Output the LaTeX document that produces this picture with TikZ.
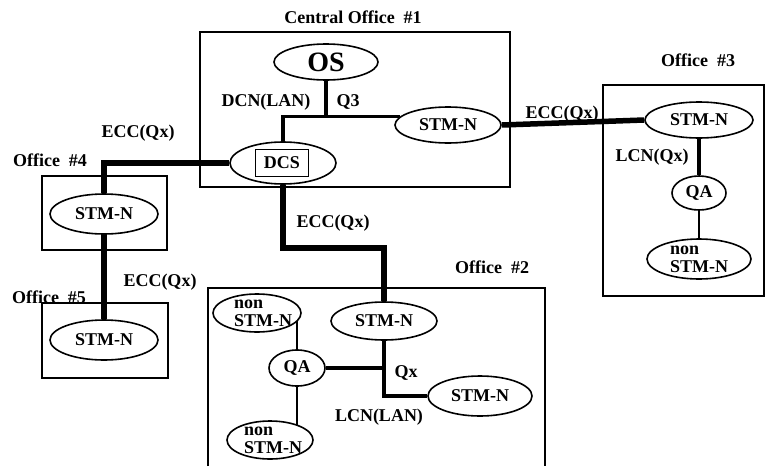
\documentclass[tikz,border=0pt]{standalone}
\usepackage{fontspec}
\setmainfont{Liberation Serif}
\usetikzlibrary{shapes.geometric}
\begin{document}
\begin{tikzpicture}[x=1pt,y=-1pt,
  every node/.style={font=\bfseries\fontsize{18}{18}\selectfont},
  ell/.style={draw, ellipse, line width=1.6pt, inner sep=0pt},
  officebox/.style={draw, rectangle, line width=1.6pt, inner sep=0pt},
  thinline/.style={line width=1.6pt},
  medline/.style={line width=3.5pt},
  eccline/.style={line width=5.5pt},
  lbl/.style={inner sep=0pt}]
\useasboundingbox (0,0) rectangle (765,466);
% office frames
\node[officebox, minimum width=310, minimum height=155] (co) at (355,109.5) {};
\node[officebox, minimum width=161, minimum height=211] (o3) at (683.5,190.5) {};
\node[officebox, minimum width=125, minimum height=74] (o4) at (104.5,213) {};
\node[officebox, minimum width=126, minimum height=75] (o5) at (105,340.5) {};
\draw[line width=1.6pt] (208,466) |- (545,288) -- (545,466);
% central office
\node[ell, minimum width=104, minimum height=36, font=\bfseries\fontsize{28}{28}\selectfont] (os) at (326,62) {OS};
\node[ell, minimum width=106, minimum height=36] (costm) at (448,125) {STM-N};
\node[ell, minimum width=106, minimum height=42] (dcs) at (283,163) {};
\node[officebox, minimum width=53, minimum height=27] (dcsbox) at (282,163) {DCS};
% office 3
\node[ell, minimum width=108, minimum height=36] (o3stm) at (699,120) {STM-N};
\node[ell, minimum width=54, minimum height=34] (qa3) at (699,193) {QA};
\node[ell, minimum width=104, minimum height=40, label={[lbl,align=left]center:non\\STM-N}] (non3) at (699,259) {};
% office 4, 5
\node[ell, minimum width=108, minimum height=40] (stm4) at (104,214) {STM-N};
\node[ell, minimum width=108, minimum height=40] (stm5) at (104,340) {STM-N};
% office 2
\node[ell, minimum width=88, minimum height=38, label={[lbl,align=left,xshift=6pt]center:non\\STM-N}] (nonA) at (257,313) {};
\node[ell, minimum width=106, minimum height=38] (stm2) at (384,321) {STM-N};
\node[ell, minimum width=56, minimum height=36] (qa2) at (297,368) {QA};
\node[ell, minimum width=104, minimum height=40] (stm2b) at (480,396) {STM-N};
\node[ell, minimum width=86, minimum height=38, label={[lbl,align=left,xshift=3pt]center:non\\STM-N}] (nonB) at (270,440) {};
% connectors
\draw[medline] (os.south) -- (os.south |- costm.170);
\draw[medline] (dcs.north) |- (costm.170);
\draw[eccline] (costm.east) -- (o3stm.west);
\draw[eccline] (dcs.west) -| (stm4.north);
\draw[eccline] (stm4.south) -- (stm5.north);
\coordinate (bend2) at (330,248);
\draw[eccline] (dcs.south) |- (bend2) -| (stm2.north);
\draw[medline] (o3stm.south) -- (qa3.north);
\draw[thinline] (qa3.south) -- (non3.north);
\draw[thinline] (qa2.north) -- (qa2.north |- nonA.-11);
\draw[thinline] (qa2.south) -- (qa2.south |- nonB.29);
\draw[medline] (qa2.east) -- (qa2.east -| stm2.south);
\draw[medline] (stm2.south) |- (stm2b.west);
% labels
\node[lbl] (lco) at (353,17) {Central Office\ \ \#1};
\node[lbl] (ldcn) at (266,102) {DCN(LAN)};
\node[lbl] (lq3) at (348,102) {Q3};
\node[lbl] (le1) at (562,114) {ECC(Qx)};
\node[lbl] (lo3) at (698,60) {Office\ \ \#3};
\node[lbl] (llcn3) at (652,157) {LCN(Qx)};
\node[lbl] (le4) at (138,133) {ECC(Qx)};
\node[lbl] (lo4) at (50,160) {Office\ \ \#4};
\node[lbl] (le5) at (160,282) {ECC(Qx)};
\node[lbl] (lo5) at (49,297) {Office\ \ \#5};
\node[lbl] (le2) at (333,223) {ECC(Qx)};
\node[lbl] (lo2) at (492,267) {Office\ \ \#2};
\node[lbl] (lqx) at (406,373) {Qx};
\node[lbl] (llcn2) at (379,417) {LCN(LAN)};
\end{tikzpicture}
\end{document}
